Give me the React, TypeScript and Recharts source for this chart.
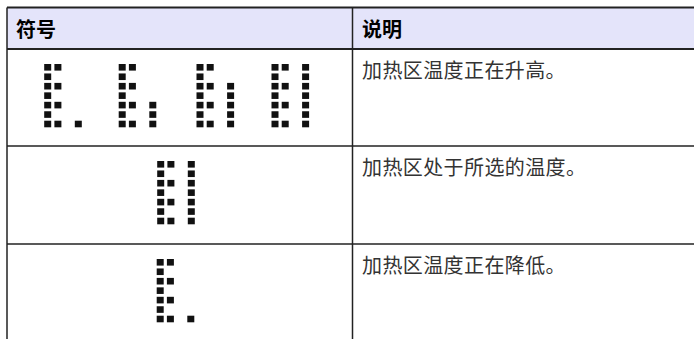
import React from "react";
import { ScatterChart, Scatter, XAxis, YAxis, ReferenceArea, ReferenceLine } from "recharts";

// ---------- data ----------
const headers: string[] = ["符号", "说明"];

// 7-row x 4-column dot-matrix bitmaps of the display symbols
const GLYPH_E_DOT: string[] = ["##..", "#...", "##..", "#...", "##..", "#...", "##.#"];
const GLYPH_E_COMMA: string[] = ["##..", "#...", "##..", "#...", "##.#", "#..#", "##.#"];
const GLYPH_E_HALF: string[] = ["##..", "#...", "##.#", "#..#", "##.#", "#..#", "##.#"];
const GLYPH_E_BAR: string[] = ["##.#", "#..#", "##.#", "#..#", "##.#", "#..#", "##.#"];

const rowSymbols: string[][][] = [
  [GLYPH_E_DOT, GLYPH_E_COMMA, GLYPH_E_HALF, GLYPH_E_BAR],
  [GLYPH_E_BAR],
  [GLYPH_E_DOT],
];

const descriptions: string[] = [
  "加热区温度正在升高。",
  "加热区处于所选的温度。",
  "加热区温度正在降低。",
];

// ---------- layout ----------
const W = 694;
const H = 339;
const TABLE_LEFT = 7;
const TABLE_TOP = 7.5;
const HEADER_BOTTOM = 49;
const COL_DIVIDER = 352.5;
const ROW_TOPS = [49, 146, 244];
const TEXT_X = 362;
const GLYPH_X: number[][] = [[47.7, 122.2, 200, 275], [160.7], [160.2]];
const GLYPH_TOP_OFFSET = 18.3;
const PITCH_X = 10.2;
const PITCH_Y = 9.45;
const DOT_W = 7;
const DOT_H = 6.6;

type Dot = { x: number; y: number };
const dots: Dot[] = [];
rowSymbols.forEach((glyphs, r) => {
  glyphs.forEach((bitmap, g) => {
    bitmap.forEach((line, row) => {
      line.split("").forEach((ch, col) => {
        if (ch === "#") {
          dots.push({
            x: GLYPH_X[r][g] + col * PITCH_X,
            y: ROW_TOPS[r] + GLYPH_TOP_OFFSET + row * PITCH_Y,
          });
        }
      });
    });
  });
});

type Lbl = { x: number; y: number; text: string; bold: boolean };
const labels: Lbl[] = [
  { x: 16, y: 28, text: headers[0], bold: true },
  { x: TEXT_X, y: 28, text: headers[1], bold: true },
  ...descriptions.map((d, i) => ({ x: TEXT_X, y: ROW_TOPS[i] + 20.5, text: d, bold: false })),
];

const DotShape = (props: any) => {
  const { cx, cy } = props;
  return <rect x={cx - DOT_W / 2} y={cy - DOT_H / 2} width={DOT_W} height={DOT_H} fill="#111" />;
};

const TextShape = (props: any) => {
  const { cx, cy, payload } = props;
  return (
    <text
      x={cx}
      y={cy}
      dominantBaseline="central"
      fontFamily="'Noto Sans CJK SC', sans-serif"
      fontSize={20}
      fontWeight={payload.bold ? 700 : 400}
      fill={payload.bold ? "#000" : "#333"}
      letterSpacing={payload.bold ? 0 : 0.4}
    >
      {payload.text}
    </text>
  );
};

const lineStroke = "#222";

export default function App() {
  return (
    <div style={{ position: "absolute", left: 0, top: 0, width: W, height: H, background: "#fff" }}>
      <ScatterChart width={W} height={H} margin={{ top: 0, right: 0, bottom: 0, left: 0 }}>
        <XAxis type="number" dataKey="x" domain={[0, W]} hide allowDataOverflow />
        <YAxis type="number" dataKey="y" domain={[0, H]} reversed hide allowDataOverflow />
        <ReferenceArea
          x1={TABLE_LEFT}
          x2={W}
          y1={TABLE_TOP}
          y2={HEADER_BOTTOM}
          fill="#e4e4fa"
          fillOpacity={1}
          stroke="none"
        />
        <ReferenceLine segment={[{ x: TABLE_LEFT, y: TABLE_TOP }, { x: W, y: TABLE_TOP }]} stroke={lineStroke} strokeWidth={2} />
        <ReferenceLine segment={[{ x: TABLE_LEFT, y: HEADER_BOTTOM }, { x: W, y: HEADER_BOTTOM }]} stroke={lineStroke} strokeWidth={2} />
        <ReferenceLine segment={[{ x: TABLE_LEFT, y: ROW_TOPS[1] }, { x: W, y: ROW_TOPS[1] }]} stroke={lineStroke} strokeWidth={1.5} />
        <ReferenceLine segment={[{ x: TABLE_LEFT, y: ROW_TOPS[2] }, { x: W, y: ROW_TOPS[2] }]} stroke={lineStroke} strokeWidth={1.5} />
        <ReferenceLine segment={[{ x: TABLE_LEFT, y: TABLE_TOP }, { x: TABLE_LEFT, y: H }]} stroke={lineStroke} strokeWidth={1.5} />
        <ReferenceLine segment={[{ x: COL_DIVIDER, y: TABLE_TOP }, { x: COL_DIVIDER, y: H }]} stroke={lineStroke} strokeWidth={1.5} />
        <Scatter data={dots} shape={DotShape} isAnimationActive={false} />
        <Scatter data={labels} shape={TextShape} isAnimationActive={false} />
      </ScatterChart>
    </div>
  );
}
